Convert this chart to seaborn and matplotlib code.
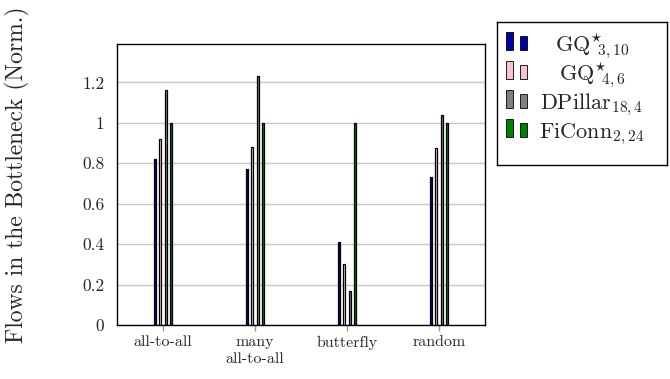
import matplotlib
matplotlib.use("Agg")
import matplotlib.pyplot as plt
from matplotlib.patches import Rectangle
import pandas as pd
import seaborn as sns

# Traffic patterns on the x axis and the four interconnects compared
patterns = ["all-to-all", "many\nall-to-all", "butterfly", "random"]
networks = [r"GQ$^{\star}\!\!{}_{3,10}$", r"GQ$^{\star}\!\!{}_{4,6}$",
            r"DPillar$_{18,4}$", r"FiConn$_{2,24}$"]

# Normalised number of flows crossing the bottleneck
gq_3_10 = [0.82, 0.77, 0.41, 0.73]
gq_4_6 = [0.92, 0.88, 0.30, 0.875]
dpillar_18_4 = [1.16, 1.23, 0.17, 1.04]
ficonn_2_24 = [1.0, 1.0, 1.0, 1.0]

colors = ["#0000A8", "#F5C3D5", "#808080", "#008000"]
y_ticks = [0, 0.2, 0.4, 0.6, 0.8, 1.0, 1.2]
y_tick_labels = ["0", "0.2", "0.4", "0.6", "0.8", "1", "1.2"]

sns.set_theme(style="white")
plt.rcParams.update({
    "font.family": "serif",
    "font.serif": ["cmr10", "DejaVu Serif"],
    "mathtext.fontset": "cm",
    "axes.formatter.use_mathtext": True,
    "axes.unicode_minus": False,
})

df = pd.DataFrame({
    "pattern": patterns * 4,
    "network": [n for n in networks for _ in patterns],
    "flows": gq_3_10 + gq_4_6 + dpillar_18_4 + ficonn_2_24,
})

W, H = 670, 379
fig = plt.figure(figsize=(W / 100, H / 100), dpi=100)
ax_l, ax_r, ax_t, ax_b = 117, 485, 44, 325
ax = fig.add_axes([ax_l / W, 1 - ax_b / H, (ax_r - ax_l) / W, (ax_b - ax_t) / H])

ax.set_axisbelow(True)
ax.grid(True, axis="both", color="#c8c8c8", linewidth=1.0)

sns.barplot(data=df, x="pattern", y="flows", hue="network",
            order=patterns, hue_order=networks, palette=colors,
            saturation=1, width=0.245, gap=0.65, errorbar=None,
            edgecolor="black", linewidth=0.9, legend=False, ax=ax)

ax.set_xlim(-0.5, 3.5)
ax.set_ylim(0, 1.39)
ax.set_yticks(y_ticks)
ax.set_yticklabels(y_tick_labels)
ax.set_xlabel("")
ax.set_ylabel("Flows in the Bottleneck (Norm.)", fontsize=17)
ax.yaxis.set_label_coords((30 - ax_l) / (ax_r - ax_l), 0.534)

for lbl in ax.get_xticklabels():
    lbl.set_linespacing(1.25)
ax.tick_params(axis="x", length=4.5, width=1.0, color="#999999",
               direction="out", labelsize=11.5, pad=3, bottom=True)
ax.tick_params(axis="y", length=0, labelsize=12.5, pad=9, left=True)

for sp in ax.spines.values():
    sp.set_color("black")
    sp.set_linewidth(1.0)
    sp.set_visible(True)

# Legend box drawn to the right of the axes, in pixel units
lx0, ly0, lx1, ly1 = 497, 22, 667, 165
leg = fig.add_axes([lx0 / W, 1 - ly1 / H, (lx1 - lx0) / W, (ly1 - ly0) / H])
leg.set_xlim(0, lx1 - lx0)
leg.set_ylim(ly1 - ly0, 0)
leg.set_xticks([])
leg.set_yticks([])
for sp in leg.spines.values():
    sp.set_color("black")
    sp.set_linewidth(1.0)
    sp.set_visible(True)

row_pitch = 29.0
for i, (name, col) in enumerate(zip(networks, colors)):
    base = 28 + row_pitch * i
    leg.add_patch(Rectangle((9, base - 18), 6.5, 18, facecolor=col,
                            edgecolor="black", linewidth=0.6))
    leg.add_patch(Rectangle((23, base - 14), 6.5, 14, facecolor=col,
                            edgecolor="black", linewidth=0.6))
    leg.text(95, base + 1, name, ha="center", va="baseline", fontsize=16)

fig.savefig("out.png", dpi=100)
